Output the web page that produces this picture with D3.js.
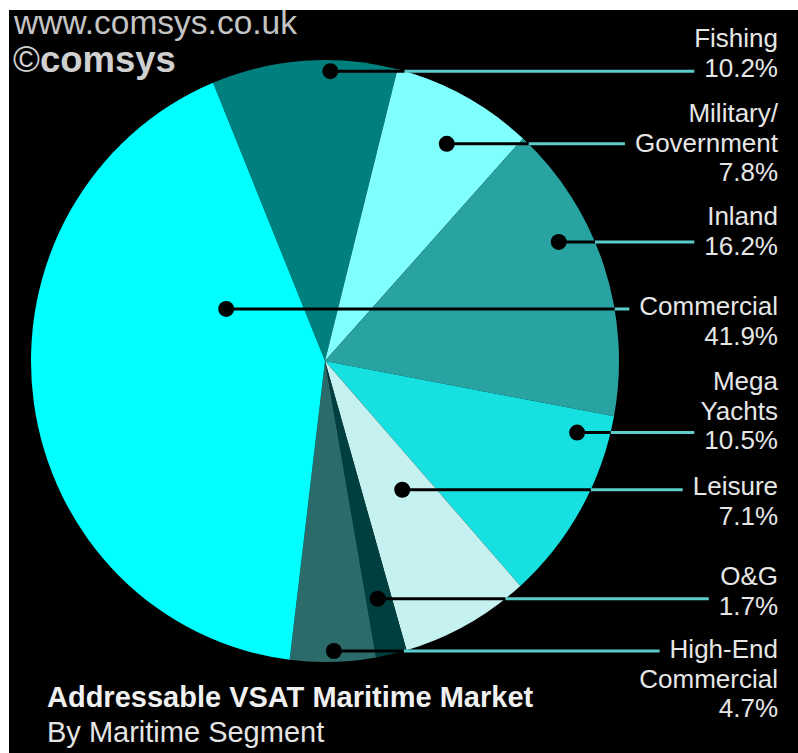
<html>
<head>
<script src="https://d3js.org/d3.v7.min.js"></script>
<style>
  body { margin: 0; background: #fff; }
  text { font-family: "Liberation Sans", Arial, sans-serif; }
</style>
</head>
<body>
<svg id="chart" width="798" height="753"></svg>
<script>
// data, clockwise from the top-left edge of Fishing
const segments = ["Fishing", "Military/Government", "Inland", "Mega Yachts", "Leisure", "O&G", "High-End Commercial", "Commercial"];
const nameLines = [["Fishing"], ["Military/", "Government"], ["Inland"], ["Mega", "Yachts"], ["Leisure"], ["O&G"], ["High-End", "Commercial"], ["Commercial"]];
const shares = [10.2, 7.8, 16.2, 10.5, 7.1, 1.7, 4.7, 41.9];
const colors = ["#007f7f", "#80ffff", "#29a2a2", "#17e0e0", "#c6f1f1", "#003f3f", "#2b6b69", "#00ffff"];

// label layout
const labelTop = [47, 122, 225, 390, 495, 585, 658, 315];
const leaderRow = [1, 1, 1, 2, 0, 1, 0, 0];
const dotAngleFrac = [0.64, 0.555, 0.364, 0.13, 0.395, 0.54, 0.485, 0.732];
const dotRadiusFrac = [0.963, 0.832, 0.888, 0.89, 0.502, 0.81, 0.964, 0.378];

const svg = d3.select("#chart");
const cx = 325, cy = 361, rx = 294, ry = 301;
const labelRight = 778, lineHeight = 29.5;

svg.append("rect")
    .attr("x", 9).attr("y", 10)
    .attr("width", 798 - 9).attr("height", 753 - 10)
    .attr("fill", "#000");

const data = segments.map((s, i) => ({ name: s, lines: nameLines[i], value: shares[i], color: colors[i], i: i }));

const start = -22.4 * Math.PI / 180;
const pie = d3.pie().sort(null).value(d => d.value)
    .startAngle(start).endAngle(start + 2 * Math.PI);
const arcs = pie(data);
const arc = d3.arc().innerRadius(0).outerRadius(rx);

svg.append("g")
    .attr("transform", `translate(${cx},${cy}) scale(1,${ry / rx})`)
    .selectAll("path").data(arcs)
    .join("path")
    .attr("d", arc)
    .attr("fill", d => d.data.color);

// title texts
svg.append("text")
    .attr("x", 14).attr("y", 34)
    .style("font-size", "33.5px")
    .attr("fill", "#c4c4c4")
    .text("www.comsys.co.uk");

let copy = svg.append("text")
    .attr("x", 13).attr("y", 72)
    .style("font-size", "36.5px")
    .attr("fill", "#d0d0d0");
copy.append("tspan").text("\u00a9");
copy.append("tspan").style("font-weight", "bold").text("comsys");

svg.append("text")
    .attr("x", 47).attr("y", 707)
    .style("font-size", "29px").style("font-weight", "bold")
    .attr("fill", "#f0f0f0")
    .text("Addressable VSAT Maritime Market");

svg.append("text")
    .attr("x", 47).attr("y", 742)
    .style("font-size", "29px")
    .attr("fill", "#e4e4e4")
    .text("By Maritime Segment");

// labels, leaders and dots
const fmt = d3.format(".1f");
const leaders = svg.append("g");
const dots = svg.append("g");
const labels = svg.append("g");

arcs.forEach((a, k) => {
    const d = a.data;
    const rows = d.lines.concat([fmt(d.value) + "%"]);
    const t = labels.append("text")
        .attr("text-anchor", "end")
        .style("font-size", "26px")
        .attr("fill", "#e6e6e6");
    const spans = rows.map((r, j) => t.append("tspan")
        .attr("x", labelRight)
        .attr("y", labelTop[k] + j * lineHeight)
        .text(r));

    const ang = a.startAngle + dotAngleFrac[k] * (a.endAngle - a.startAngle);
    const rr = dotRadiusFrac[k] * rx;
    const dx = cx + rr * Math.sin(ang);
    const dy = cy - rr * Math.cos(ang) * (ry / rx);

    const edgeX = cx + rx * Math.sqrt(1 - Math.pow((dy - cy) / ry, 2));
    const w = spans[leaderRow[k]].node().getComputedTextLength();
    const endX = labelRight - w - 10;

    leaders.append("line")
        .attr("x1", edgeX).attr("x2", endX)
        .attr("y1", dy).attr("y2", dy)
        .attr("stroke", "#5ccccc").attr("stroke-width", 3);
    leaders.append("line")
        .attr("x1", dx).attr("x2", edgeX)
        .attr("y1", dy).attr("y2", dy)
        .attr("stroke", "#000").attr("stroke-width", 3);
    dots.append("circle")
        .attr("cx", dx).attr("cy", dy)
        .attr("r", 8)
        .attr("fill", "#000");
});
</script>
</body>
</html>
